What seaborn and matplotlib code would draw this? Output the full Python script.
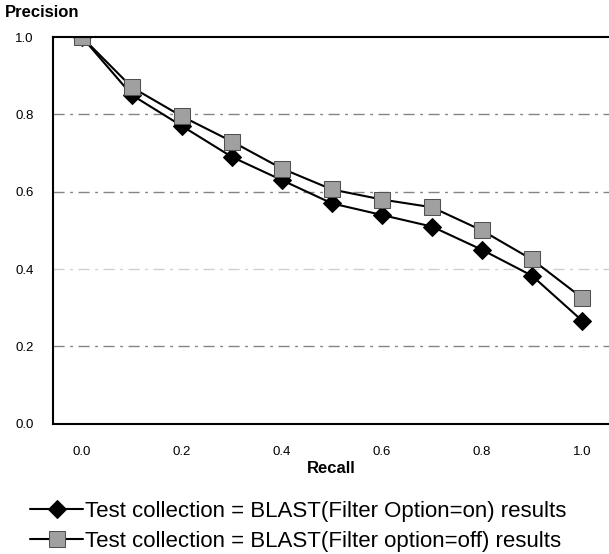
import matplotlib
matplotlib.use("Agg")
import matplotlib.pyplot as plt
import seaborn as sns
import pandas as pd

# data
recall = [0.0, 0.1, 0.2, 0.3, 0.4, 0.5, 0.6, 0.7, 0.8, 0.9, 1.0]
prec_on = [1.0, 0.85, 0.77, 0.69, 0.63, 0.57, 0.54, 0.51, 0.45, 0.383, 0.267]
prec_off = [1.0, 0.87, 0.795, 0.73, 0.66, 0.606, 0.58, 0.56, 0.50, 0.425, 0.326]
lbl_on = 'Test collection = BLAST(Filter Option=on) results'
lbl_off = 'Test collection = BLAST(Filter option=off) results'

df = pd.DataFrame({
    'Recall': recall * 2,
    'Precision': prec_on + prec_off,
    'series': [lbl_on] * len(recall) + [lbl_off] * len(recall),
})

sns.set_style('white')
plt.rcParams['font.family'] = ['Liberation Sans', 'DejaVu Sans']
plt.rcParams['text.color'] = 'black'
plt.rcParams['xtick.color'] = 'black'
plt.rcParams['ytick.color'] = 'black'
plt.rcParams['axes.labelcolor'] = 'black'

fig = plt.figure(figsize=(6.09, 5.54), dpi=100)
ax = fig.add_axes([0.087, 0.235, 0.913, 0.698])

# grid lines (dash-dot)
for yv in [0.2, 0.4, 0.6, 0.8]:
    ax.axhline(yv, color='#666666', lw=1.0, ls=(0, (8, 4, 2, 4)), zorder=0,
               alpha=0.3 if yv == 0.4 else 0.8)

sns.lineplot(data=df[df.series == lbl_on], x='Recall', y='Precision', ax=ax,
             color='black', lw=1.5, marker='D', markersize=9,
             markerfacecolor='black', markeredgecolor='black', label=lbl_on)
sns.lineplot(data=df[df.series == lbl_off], x='Recall', y='Precision', ax=ax,
             color='black', lw=1.5, marker='s', markersize=11,
             markerfacecolor='#a0a0a0', markeredgecolor='#505050', label=lbl_off)

# format
ax.set_xlim(-0.058, 1.054)
ax.set_ylim(0, 1.0)
ax.set_xticks(recall[::2])
ax.set_yticks([0.0, 0.2, 0.4, 0.6, 0.8, 1.0])
ax.set_xticklabels([f'{v:.1f}' for v in recall[::2]], fontsize=9.5)
ax.set_yticklabels([f'{v:.1f}' for v in [0.0, 0.2, 0.4, 0.6, 0.8, 1.0]], fontsize=9.5)
ax.tick_params(axis='x', length=0, pad=16)
ax.tick_params(axis='y', length=2, pad=12)
ax.spines['right'].set_visible(False)
for s in ['left', 'top', 'bottom']:
    ax.spines[s].set_color('black')
    ax.spines[s].set_linewidth(1.5)
ax.set_xlabel('Recall', fontsize=12, fontweight='bold', labelpad=2)
ax.set_ylabel('')
fig.text(0.008, 0.978, 'Precision', fontsize=12, fontweight='bold', va='center', ha='left')

h, l = ax.get_legend_handles_labels()
ax.get_legend().remove()
fig.legend(h, l, loc='upper left', bbox_to_anchor=(0.049, 0.096), frameon=False,
           fontsize=16, handlelength=2.4, handletextpad=0.1, labelspacing=0.42,
           borderaxespad=0, borderpad=0)

fig.savefig('out.png', dpi=100)
